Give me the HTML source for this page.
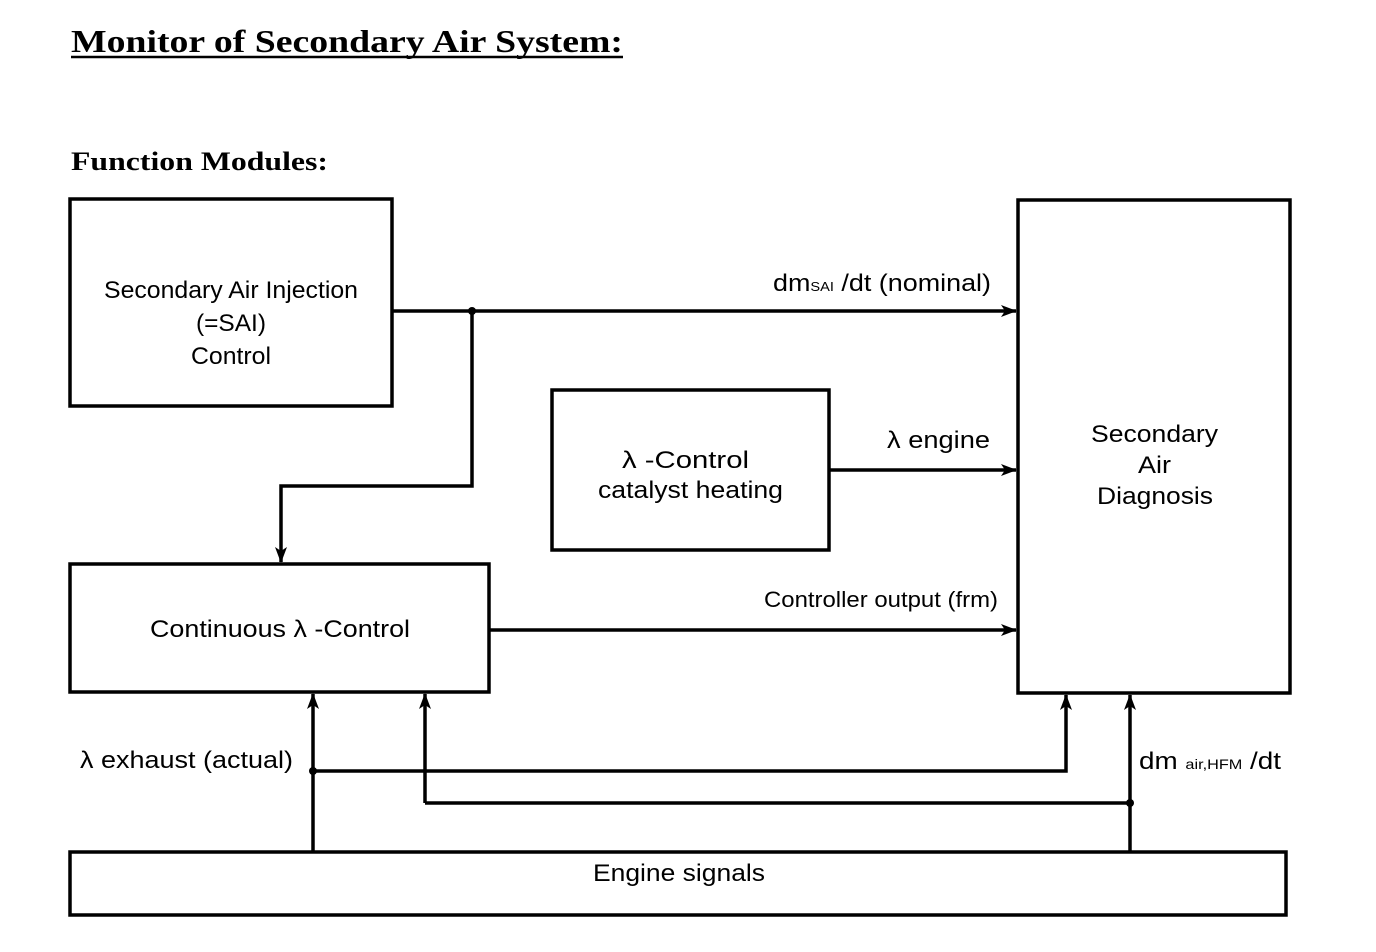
<!DOCTYPE html>
<html><head><style>body{margin:0;background:#fff}</style></head><body>
<svg width="1376" height="952" xmlns="http://www.w3.org/2000/svg" style="display:block">
<defs><marker id="a" markerWidth="16" markerHeight="12" refX="15" refY="6" orient="auto" markerUnits="userSpaceOnUse"><path d="M0,0 L16,6 L0,12 L4,6 z" fill="#000"/></marker></defs>
<g font-family="Liberation Serif, serif" font-weight="bold" fill="#000">
<text x="71" y="52" font-size="32" textLength="552" lengthAdjust="spacingAndGlyphs">Monitor of Secondary Air System:</text>
<line x1="71" y1="57" x2="623" y2="57" stroke="#000" stroke-width="2.5"/>
<text x="71" y="170" font-size="26" textLength="257" lengthAdjust="spacingAndGlyphs">Function Modules:</text>
</g>
<g fill="none" stroke="#000" stroke-width="3.5">
<rect x="70" y="199" width="322" height="207"/>
<rect x="552" y="390" width="277" height="160"/>
<rect x="70" y="564" width="419" height="128"/>
<rect x="1018" y="200" width="272" height="493"/>
<rect x="70" y="852" width="1216" height="63"/>
<line x1="392" y1="311" x2="1016" y2="311" marker-end="url(#a)"/>
<polyline points="472,311 472,486 281,486 281,562" marker-end="url(#a)"/>
<line x1="829" y1="470" x2="1016" y2="470" marker-end="url(#a)"/>
<line x1="489" y1="630" x2="1016" y2="630" marker-end="url(#a)"/>
<line x1="313" y1="852" x2="313" y2="694" marker-end="url(#a)"/>
<polyline points="313,771 1066,771 1066,695" marker-end="url(#a)"/>
<polyline points="425,803 425,694" marker-end="url(#a)"/>
<line x1="425" y1="803" x2="1130" y2="803"/>
<line x1="1130" y1="852" x2="1130" y2="695" marker-end="url(#a)"/>
</g>
<circle cx="472" cy="311" r="4"/><circle cx="313" cy="771" r="4"/><circle cx="1130" cy="803" r="4"/>
<g font-family="Liberation Sans, DejaVu Sans, sans-serif" font-size="24" fill="#000" lengthAdjust="spacingAndGlyphs">
<text x="104" y="298" textLength="254" lengthAdjust="spacingAndGlyphs">Secondary Air Injection</text>
<text x="196" y="331" textLength="70" lengthAdjust="spacingAndGlyphs">(=SAI)</text>
<text x="191" y="364" textLength="80" lengthAdjust="spacingAndGlyphs">Control</text>
<text x="622" y="468" textLength="127" lengthAdjust="spacingAndGlyphs">λ -Control</text>
<text x="598" y="498" textLength="185" lengthAdjust="spacingAndGlyphs">catalyst heating</text>
<text x="150" y="637" textLength="260" lengthAdjust="spacingAndGlyphs">Continuous λ -Control</text>
<text x="1091" y="442" textLength="127" lengthAdjust="spacingAndGlyphs">Secondary</text>
<text x="1138" y="473" textLength="33" lengthAdjust="spacingAndGlyphs">Air</text>
<text x="1097" y="504" textLength="116" lengthAdjust="spacingAndGlyphs">Diagnosis</text>
<text x="593" y="881" textLength="172" lengthAdjust="spacingAndGlyphs">Engine signals</text>
<text x="773" y="291" textLength="218" lengthAdjust="spacingAndGlyphs">dm<tspan font-size="13">SAI</tspan> /dt (nominal)</text>
<text x="887" y="448" textLength="103" lengthAdjust="spacingAndGlyphs">λ engine</text>
<text x="764" y="607" font-size="22" textLength="234" lengthAdjust="spacingAndGlyphs">Controller output (frm)</text>
<text x="80" y="768" textLength="213" lengthAdjust="spacingAndGlyphs">λ exhaust (actual)</text>
<text x="1139" y="769" textLength="142" lengthAdjust="spacingAndGlyphs">dm <tspan font-size="14">air,HFM</tspan> /dt</text>
</g>
</svg>
</body></html>
